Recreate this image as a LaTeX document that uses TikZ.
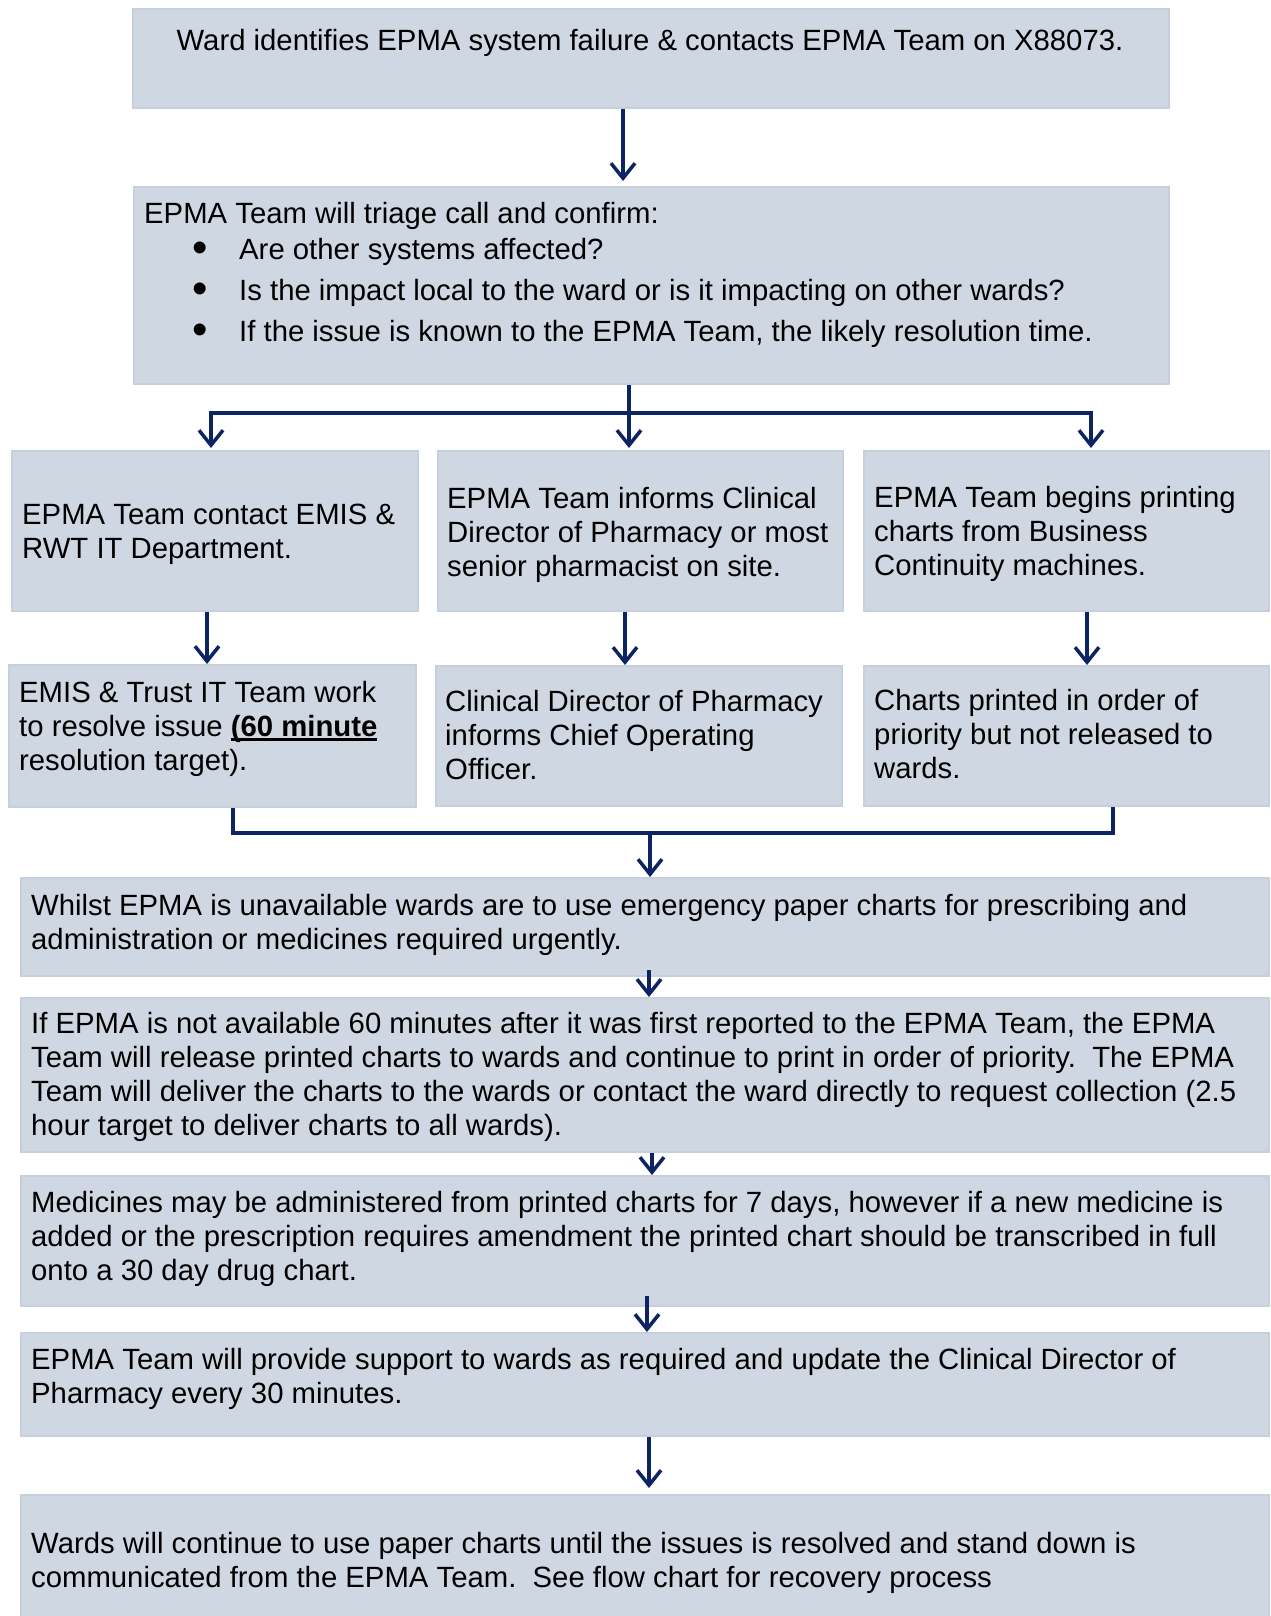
\documentclass[tikz,border=0pt]{standalone}
\usepackage{fontspec}
\setmainfont{Liberation Sans}
\usetikzlibrary{arrows.meta,calc}
\definecolor{boxfill}{RGB}{207,215,227}
\definecolor{boxline}{RGB}{198,207,220}
\definecolor{navy}{RGB}{12,36,100}
\newcommand\tstr{\rule{0pt}{23.8pt}}
\newcommand\myul[1]{\setbox0\hbox{#1}\rlap{\rule[-4.5pt]{\wd0}{2.6pt}}\box0}
\newcommand\bigbul{\raisebox{-3.5pt}{\scalebox{1.5}{•}}}
\begin{document}
\begin{tikzpicture}[x=1pt,y=-1pt,
  box/.style={draw=boxline, line width=2pt, fill=boxfill, inner sep=0pt, anchor=north west},
  txt/.style={anchor=north west, inner sep=0pt, align=left, font=\fontsize{29.3}{34}\selectfont},
  lin/.style={anchor=base west, inner sep=0pt, font=\fontsize{29.3}{34}\selectfont},
  conn/.style={draw=navy, line width=3.5pt, line join=miter},
  arr/.style={conn, -{Straight Barb[length=15pt,width=24pt]}}]
\fill[white] (0,0) rectangle (1270,1616);
\useasboundingbox (0,0) rectangle (1270,1616);
% boxes
\node[box, minimum width=1036pt, minimum height=99pt]  (b1)  at (132,8) {};
\node[box, minimum width=1035pt, minimum height=197pt] (b2)  at (133,186) {};
\node[box, minimum width=406pt, minimum height=160pt]  (b3a) at (11,450) {};
\node[box, minimum width=405pt, minimum height=160pt]  (b3b) at (437,450) {};
\node[box, minimum width=405pt, minimum height=160pt]  (b3c) at (863,450) {};
\node[box, minimum width=407pt, minimum height=142pt]  (b4a) at (8,664) {};
\node[box, minimum width=406pt, minimum height=140pt]  (b4b) at (435,665) {};
\node[box, minimum width=405pt, minimum height=140pt]  (b4c) at (863,665) {};
\node[box, minimum width=1248pt, minimum height=98pt]  (b5)  at (20,877) {};
\node[box, minimum width=1248pt, minimum height=154pt] (b6)  at (20,997) {};
\node[box, minimum width=1248pt, minimum height=130pt] (b7)  at (20,1175) {};
\node[box, minimum width=1248pt, minimum height=103pt] (b8)  at (20,1332) {};
\node[box, minimum width=1248pt, minimum height=126pt] (b9)  at (20,1494) {};
% texts
\node[lin, anchor=base] (t1) at (650,51) {Ward identifies EPMA system failure \& contacts EPMA Team on X88073.};
\node[lin] (t2) at (144,223) {EPMA Team will triage call and confirm:};
\node[lin] (p1) at (192,259) {\bigbul};
\node[lin] (p2) at (192,300) {\bigbul};
\node[lin] (p3) at (192,341) {\bigbul};
\node[lin] (q1) at (239,259) {Are other systems affected?};
\node[lin] (q2) at (239,300) {Is the impact local to the ward or is it impacting on other wards?};
\node[lin] (q3) at (239,341) {If the issue is known to the EPMA Team, the likely resolution time.};
\node[txt] (t3a) at (22,500.2) {\tstr EPMA Team contact EMIS \&\\RWT IT Department.};
\node[txt] (t3b) at (447,484.2) {\tstr EPMA Team informs Clinical\\Director of Pharmacy or most\\senior pharmacist on site.};
\node[txt] (t3c) at (874,483.2) {\tstr EPMA Team begins printing\\charts from Business\\Continuity machines.};
\node[txt] (t4a) at (19,678.2) {\tstr EMIS \& Trust IT Team work\\to resolve issue \myul{\textbf{(60 minute}}\\resolution target).};
\node[txt] (t4b) at (445,687.2) {\tstr Clinical Director of Pharmacy\\informs Chief Operating\\Officer.};
\node[txt] (t4c) at (874,686.2) {\tstr Charts printed in order of\\priority but not released to\\wards.};
\node[txt] (t5) at (31,891.2) {\tstr Whilst EPMA is unavailable wards are to use emergency paper charts for prescribing and\\administration or medicines required urgently.};
\node[txt] (t6) at (31,1009.2) {\tstr If EPMA is not available 60 minutes after it was first reported to the EPMA Team, the EPMA\\Team will release printed charts to wards and continue to print in order of priority.\ \ The EPMA\\Team will deliver the charts to the wards or contact the ward directly to request collection (2.5\\hour target to deliver charts to all wards).};
\node[txt] (t7) at (31,1188.2) {\tstr Medicines may be administered from printed charts for 7 days, however if a new medicine is\\added or the prescription requires amendment the printed chart should be transcribed in full\\onto a 30 day drug chart.};
\node[txt] (t8) at (31,1345.2) {\tstr EPMA Team will provide support to wards as required and update the Clinical Director of\\Pharmacy every 30 minutes.};
\node[txt] (t9) at (31,1529.2) {\tstr Wards will continue to use paper charts until the issues is resolved and stand down is\\communicated from the EPMA Team.\ \ See flow chart for recovery process};
% connectors
\coordinate (k1) at (623,0);
\draw[arr] (b1.south -| k1) -- ([yshift=5pt]b2.north -| k1);
\coordinate (hL) at (211,413);
\coordinate (hM) at (629,413);
\coordinate (hR) at (1091,413);
\draw[arr, shorten >=2pt] (b2.south -| hM) -- (b3b.north -| hM);
\draw[arr, shorten >=2pt] (hM) -- (hL) -- (b3a.north -| hL);
\draw[arr, shorten >=2pt] (hM) -- (hR) -- (b3c.north -| hR);
\coordinate (v1) at (207,0);
\coordinate (v2) at (625,0);
\coordinate (v3) at (1087,0);
\draw[arr] (b3a.south -| v1) -- (b4a.north -| v1);
\draw[arr] (b3b.south -| v2) -- (b4b.north -| v2);
\draw[arr] (b3c.south -| v3) -- (b4c.north -| v3);
\coordinate (mL) at (233,833);
\coordinate (mM) at (650,833);
\coordinate (mR) at (1113,833);
\draw[conn] (b4a.south -| mL) -- (mL) -- (mR) -- (b4c.south -| mR);
\draw[arr] (mM) -- (b5.north -| mM);
\coordinate (w5) at (649,0);
\coordinate (w6) at (652,0);
\coordinate (w7) at (647,0);
\coordinate (w8) at (649,0);
\draw[arr] ([yshift=7pt]b5.south -| w5) -- (b6.north -| w5);
\draw[arr] (b6.south -| w6) -- (b7.north -| w6);
\draw[arr] ([yshift=11pt]b7.south -| w7) -- (b8.north -| w7);
\draw[arr] (b8.south -| w8) -- ([yshift=6pt]b9.north -| w8);
\end{tikzpicture}
\end{document}
